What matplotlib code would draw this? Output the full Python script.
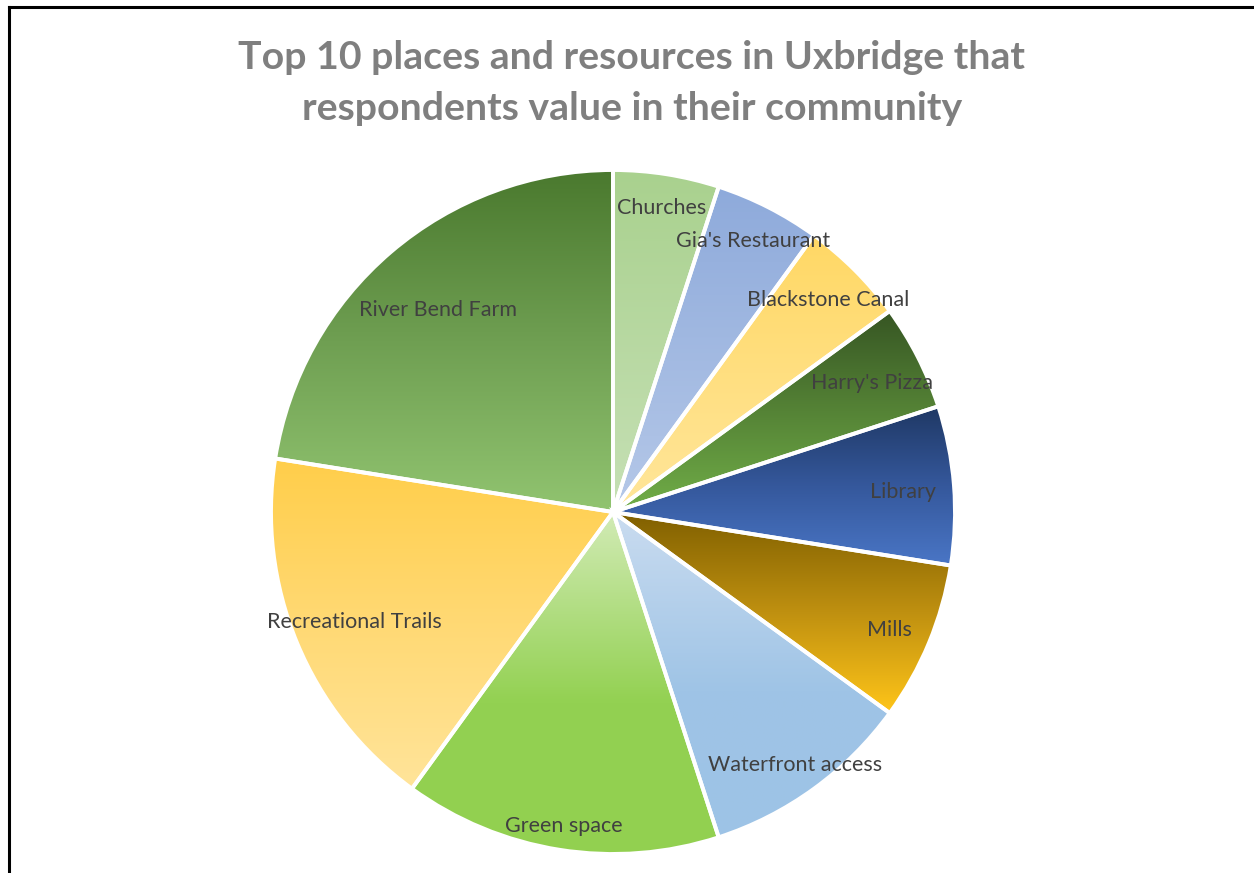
import numpy as np
import matplotlib
matplotlib.use("Agg")
import matplotlib.pyplot as plt
from matplotlib.colors import to_rgb
from matplotlib.lines import Line2D

# Survey results: places and resources respondents value
categories = ["Churches", "Gia's Restaurant", "Blackstone Canal", "Harry's Pizza",
              "Library", "Mills", "Waterfront access", "Green space",
              "Recreational Trails", "River Bend Farm"]
counts = [2, 2, 2, 2, 3, 3, 4, 6, 7, 9]

# Vertical gradient stops (position from top of slice, colour) for each slice
gradients = [
    [(0.0, "#a9d18e"), (1.0, "#c6e0b5")],
    [(0.0, "#8eaadb"), (1.0, "#b5c8e8")],
    [(0.0, "#ffd865"), (1.0, "#ffe69b")],
    [(0.0, "#365523"), (0.5, "#558336"), (1.0, "#71ae48")],
    [(0.0, "#1f3864"), (0.5, "#35589c"), (1.0, "#4a76c6")],
    [(0.0, "#7f5f00"), (0.5, "#bf9010"), (1.0, "#ffc519")],
    [(0.0, "#cadcf0"), (0.55, "#9fc4e6"), (1.0, "#9dc3e6")],
    [(0.0, "#d2ebb6"), (0.55, "#93d152"), (1.0, "#92d050")],
    [(0.0, "#ffce4a"), (0.5, "#ffd974"), (1.0, "#ffe49a")],
    [(0.0, "#4a792e"), (0.5, "#6f9f52"), (1.0, "#91c470")],
]
# Radial position of each label as a fraction of the radius
label_r = [0.91, 0.90, 0.89, 0.85, 0.85, 0.875, 0.905, 0.92, 0.82, 0.79]

W, H = 1254, 873
fig = plt.figure(figsize=(W / 100, H / 100), dpi=100)
ax = fig.add_axes([0, 0, 1, 1])
ax.set_axis_off()

cx, cy, R = 613, 361, 342
wedges, _ = ax.pie(counts, startangle=90, counterclock=False, center=(cx, cy),
                   radius=R, frame=False,
                   wedgeprops=dict(edgecolor="white", linewidth=2.8))


def ramp(stops, n=256):
    t = np.linspace(0, 1, n)
    pos = [p for p, _ in stops]
    cols = np.array([to_rgb(c) for _, c in stops])
    rgb = np.stack([np.interp(t, pos, cols[:, k]) for k in range(3)], axis=-1)
    return rgb[:, None, :]


for w, stops in zip(wedges, gradients):
    verts = w.get_patch_transform().transform(w.get_path().vertices)
    x0, y0 = verts.min(axis=0)
    x1, y1 = verts.max(axis=0)
    im = ax.imshow(ramp(stops), extent=(x0, x1, y0, y1), origin="upper",
                   interpolation="bilinear", aspect="auto", zorder=1)
    im.set_clip_path(w)
    w.set_facecolor("none")
    w.set_zorder(2)

for w, name, rf in zip(wedges, categories, label_r):
    mid = np.deg2rad((w.theta1 + w.theta2) / 2)
    ax.text(cx + rf * R * np.cos(mid), cy + rf * R * np.sin(mid) - 3, name,
            ha="center", va="center", fontsize=15.5, color="#404040",
            family="Lato", zorder=3)

ax.set_xlim(0, W)
ax.set_ylim(0, H)
ax.set_aspect("equal")

fig.text(632 / W, 1 - 83 / H,
         "Top 10 places and resources in Uxbridge that\nrespondents value in their community",
         ha="center", va="center", fontsize=28.3, fontweight="bold",
         color="#7f7f7f", family="Lato", linespacing=1.55)

# Chart frame edges
fig.add_artist(Line2D([8.5 / W, 8.5 / W], [0, 1 - 7 / H], color="black", lw=2.2,
                      transform=fig.transFigure, solid_capstyle="projecting"))
fig.add_artist(Line2D([8.5 / W, 1], [1 - 7 / H, 1 - 7 / H], color="black", lw=2.2,
                      transform=fig.transFigure, solid_capstyle="projecting"))

fig.savefig("out.png", dpi=100, facecolor="white")
